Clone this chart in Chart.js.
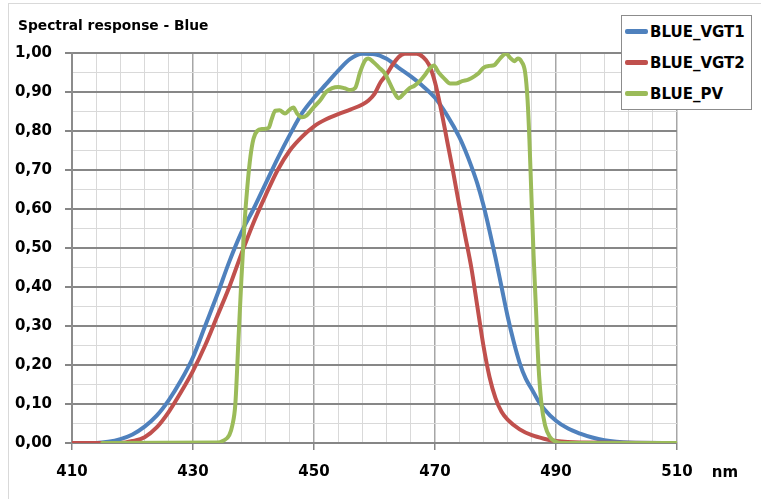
<!DOCTYPE html>
<html>
<head>
<meta charset="utf-8">
<script src="https://cdn.jsdelivr.net/npm/chart.js@4"></script>
<style>
  body { margin: 0; overflow: hidden; background: #fff; }
  #wrap { position: relative; width: 761px; height: 499px; }
  #frame { position: absolute; left: 8px; top: 3px; width: 900px; height: 700px; border: 1px solid #d9d9d9; }
  #title { position: absolute; left: 18px; top: 17px; font: bold 13.8px "DejaVu Sans"; color: #000; white-space: nowrap; }
  #legend { position: absolute; left: 621px; top: 15px; width: 131px; height: 95px; box-sizing: border-box;
            border: 1px solid #8c8c8c; background: #fff; font: bold 15px "DejaVu Sans"; }
  .row { position: absolute; left: 3px; height: 20px; line-height: 20px; white-space: nowrap; }
  .swatch { display: inline-block; width: 23px; height: 5px; border-radius: 2px; vertical-align: middle; margin-right: 2px; position: relative; top: -1px; }
</style>
</head>
<body>
<div id="wrap">
  <div id="frame"></div>
  <canvas id="myChart" width="761" height="499" style="position:absolute;left:0;top:0"></canvas>
  <div id="title">Spectral response - Blue</div>
  <div id="legend"></div>
</div>
<script>
// values
const seriesNames = ['BLUE_VGT1', 'BLUE_VGT2', 'BLUE_PV'];

const vgt1Nm  = [410, 414, 416, 418, 420, 422, 424, 426, 428, 430, 432, 434, 436, 438, 440, 442, 444, 446, 448, 450,
                 452, 454, 456, 458, 460, 462, 464, 466, 468, 470, 472, 474, 475, 476, 477, 478, 479, 480, 481, 482,
                 483, 484, 485, 486, 487, 488, 490, 492, 494, 496, 498, 500, 502, 510];
const vgt1Val = [0, 0, 0.003, 0.01, 0.022, 0.042, 0.07, 0.11, 0.16, 0.22, 0.30, 0.38, 0.465, 0.54, 0.60, 0.665, 0.73, 0.79, 0.845, 0.885,
                 0.92, 0.955, 0.985, 0.998, 0.997, 0.985, 0.962, 0.94, 0.915, 0.885, 0.84, 0.785, 0.75, 0.71, 0.665, 0.61, 0.545, 0.475, 0.40, 0.325,
                 0.26, 0.205, 0.165, 0.138, 0.11, 0.088, 0.057, 0.037, 0.024, 0.014, 0.007, 0.003, 0.001, 0];

const vgt2Nm  = [410, 418, 420, 422, 424, 426, 428, 430, 432, 434, 436, 438, 440, 442, 444, 446, 448, 450, 452, 454,
                 456, 458, 459, 460, 461, 462, 463, 464, 465, 467, 468, 469, 470, 471, 472, 473, 474, 475, 476, 477,
                 478, 479, 480, 481, 482, 484, 486, 488, 490, 494, 510];
const vgt2Val = [0, 0, 0.005, 0.015, 0.04, 0.08, 0.13, 0.185, 0.25, 0.325, 0.40, 0.485, 0.565, 0.635, 0.70, 0.75, 0.785, 0.812, 0.83, 0.843,
                 0.855, 0.868, 0.878, 0.895, 0.925, 0.945, 0.97, 0.99, 0.998, 0.998, 0.99, 0.97, 0.925, 0.855, 0.775, 0.695, 0.61, 0.53, 0.45, 0.35,
                 0.25, 0.17, 0.115, 0.08, 0.06, 0.035, 0.02, 0.011, 0.005, 0.001, 0];

const pvNm  = [415, 434, 435, 436, 436.5, 437, 437.5, 438, 438.5, 439, 439.5, 440, 440.6, 441.5, 442.5, 443, 443.6, 444.3, 445.2, 446,
               446.6, 447.2, 448, 448.8, 450, 451, 452, 453, 454, 455, 456, 456.8, 457.6, 458.4, 459, 459.8, 460.8, 461.7, 462.6, 463.4,
               464, 464.8, 465.8, 466.6, 467.6, 468.4, 469.2, 469.8, 470.6, 471.5, 472.5, 473.5, 474.5, 475.5, 476.5, 477.2, 478, 479, 479.8, 480.7,
               481.7, 482.6, 483.1, 483.7, 484.3, 484.9, 485.3, 485.6, 485.9, 486.3, 486.7, 487.1, 487.6, 488.2, 489, 490, 491, 510];
const pvVal = [0, 0.001, 0.006, 0.02, 0.045, 0.1, 0.26, 0.42, 0.56, 0.66, 0.735, 0.78, 0.80, 0.805, 0.808, 0.83, 0.852, 0.853, 0.845, 0.855,
               0.86, 0.845, 0.835, 0.84, 0.862, 0.878, 0.90, 0.91, 0.913, 0.91, 0.905, 0.91, 0.95, 0.98, 0.986, 0.977, 0.962, 0.948, 0.92, 0.895,
               0.884, 0.895, 0.91, 0.916, 0.93, 0.945, 0.962, 0.968, 0.95, 0.935, 0.922, 0.922, 0.928, 0.932, 0.94, 0.948, 0.962, 0.967, 0.969, 0.985,
               0.998, 0.985, 0.979, 0.986, 0.978, 0.95, 0.88, 0.78, 0.65, 0.48, 0.34, 0.2, 0.1, 0.045, 0.015, 0.003, 0, 0];

const xTickLabels = [410, 430, 450, 470, 490, 510];
const yTickLabels = [0, 0.1, 0.2, 0.3, 0.4, 0.5, 0.6, 0.7, 0.8, 0.9, 1.0];

function pts(xs, ys) {
  return xs.map((x, i) => ({ x: x, y: ys[i] }));
}

const colors = ['#4f81bd', '#c0504d', '#9bbb59'];
const font = { family: 'DejaVu Sans', weight: 'bold', size: 15 };

function isMajorX(v) { return xTickLabels.indexOf(Math.round(v)) >= 0; }
function isMajorY(v) { return yTickLabels.some(t => Math.abs(t - v) < 1e-6); }

const nmLabel = {
  id: 'nmLabel',
  afterDraw(chart) {
    const ctx = chart.ctx;
    ctx.save();
    ctx.font = 'bold 15px "DejaVu Sans"';
    ctx.fillStyle = '#000';
    ctx.textAlign = 'center';
    ctx.textBaseline = 'middle';
    ctx.fillText('nm', 725, 473);
    ctx.restore();
  }
};

const canvas = document.getElementById('myChart');
const ctx = canvas.getContext('2d');

const chart = new Chart(ctx, {
  type: 'line',
  data: {
    datasets: [{
      label: seriesNames[0],
      data: pts(vgt1Nm, vgt1Val),
      borderColor: colors[0],
      order: 2
    }, {
      label: seriesNames[1],
      data: pts(vgt2Nm, vgt2Val),
      borderColor: colors[1],
      order: 1
    }, {
      label: seriesNames[2],
      data: pts(pvNm, pvVal),
      borderColor: colors[2],
      order: 0
    }]
  },
  options: {
    responsive: false,
    animation: false,
    events: [],
    elements: {
      line: { borderWidth: 4, cubicInterpolationMode: 'monotone', fill: false, borderCapStyle: 'round', borderJoinStyle: 'round' },
      point: { radius: 0 }
    },
    layout: { padding: { left: 0, right: 84, top: 53, bottom: 0 } },
    plugins: {
      legend: { display: false },
      tooltip: { enabled: false },
      title: { display: false }
    },
    scales: {
      x: {
        type: 'linear',
        min: 410,
        max: 510,
        afterBuildTicks: s => {
          const t = [];
          for (let v = 410; v <= 510; v += 4) t.push({ value: v });
          s.ticks = t;
        },
        afterFit: s => { s.height = 56; },
        ticks: {
          autoSkip: false,
          maxRotation: 0,
          padding: 13,
          color: '#000',
          font: font,
          callback: v => isMajorX(v) ? String(v) : ''
        },
        grid: {
          color: c => isMajorX(c.tick.value) ? '#a6a6a6' : '#d9d9d9',
          lineWidth: c => isMajorX(c.tick.value) ? 1.5 : 1,
          tickColor: c => isMajorX(c.tick.value) ? '#868686' : 'rgba(0,0,0,0)',
          tickLength: 7
        },
        border: { color: '#868686', width: 2 }
      },
      y: {
        min: 0,
        max: 1,
        afterBuildTicks: s => {
          const t = [];
          for (let i = 0; i <= 20; i++) t.push({ value: i / 20 });
          s.ticks = t;
        },
        afterFit: s => { s.width = 72; },
        ticks: {
          autoSkip: false,
          padding: 13,
          color: '#000',
          font: font,
          callback: v => isMajorY(v) ? v.toFixed(2).replace('.', ',') : ''
        },
        grid: {
          color: c => isMajorY(c.tick.value) ? '#878787' : '#d9d9d9',
          lineWidth: c => isMajorY(c.tick.value) ? 2 : 1,
          tickColor: c => isMajorY(c.tick.value) ? '#868686' : 'rgba(0,0,0,0)',
          tickLength: 7
        },
        border: { color: '#8c8c8c', width: 2 }
      }
    }
  },
  plugins: [nmLabel]
});

// legend box drawn over the plot, built from the datasets
const legend = document.getElementById('legend');
chart.data.datasets.forEach((ds, i) => {
  const row = document.createElement('div');
  row.className = 'row';
  row.style.top = (6 + 31 * i) + 'px';
  row.innerHTML = '<span class="swatch" style="background:' + ds.borderColor + '"></span>' + ds.label;
  legend.appendChild(row);
});
</script>
</body>
</html>
